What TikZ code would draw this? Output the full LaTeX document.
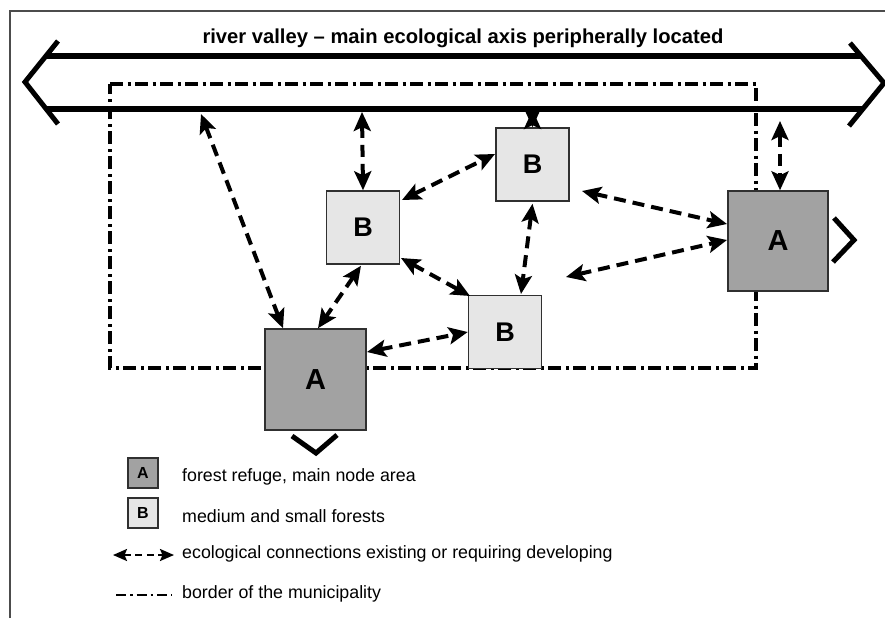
\documentclass[tikz,border=0pt]{standalone}
\usepackage{fontspec}
\setmainfont{Liberation Sans}
\usetikzlibrary{arrows.meta}
\definecolor{aFill}{HTML}{A2A2A2}
\definecolor{bFill}{HTML}{E6E6E6}
\definecolor{edge}{HTML}{303030}
\begin{document}
\begin{tikzpicture}[x=1pt,y=-1pt,
  abox/.style={draw=edge,line width=1.5pt,fill=aFill,minimum size=#1,inner sep=0pt,
    font=\fontsize{29}{29}\selectfont\bfseries},
  bbox/.style={draw=edge,line width=1.5pt,fill=bFill,minimum size=#1,inner sep=0pt,
    font=\fontsize{27}{27}\selectfont\bfseries},
  conn/.style={line width=4pt,dash pattern=on 12pt off 7pt,
    {Stealth[length=19pt,width=17pt,inset=4pt]}-{Stealth[length=19pt,width=17pt,inset=4pt]}},
  river/.style={line width=5.5pt},
  chev/.style={line width=5pt,line cap=butt},
  border/.style={line width=3.2pt,dash pattern=on 13pt off 4.5pt on 3pt off 4.5pt},
  frameline/.style={line width=1.6pt,draw=black!70},
  legtext/.style={anchor=west,inner sep=0pt,font=\fontsize{17.8}{17.8}\selectfont}
]
\useasboundingbox (0,0) rectangle (885,619);
% frame
\draw[frameline] (10,618) -- (10,11) -- (885,11);
% title
\node[font=\fontsize{20.2}{20.2}\selectfont\bfseries] (title) at (463,38) {river valley -- main ecological axis peripherally located};
% river valley
\coordinate (rl1) at (45,56);
\coordinate (rr1) at (862,56);
\coordinate (rl2) at (45,109);
\coordinate (rr2) at (862,109);
\draw[river] (rl1) -- (rr1);
\draw[river] (rl2) -- (rr2);
\draw[chev] (58,41) -- (25,82) -- (58,124);
\draw[chev] (850,43) -- (884,83) -- (849,126);
% municipality border
\draw[border] (110,84) -- (756,84) -- (756,368) -- (110,368) -- cycle;
% nodes
\node[abox=101pt] (A1) at (315.5,379.5) {A};
\node[abox=100pt] (A2) at (778,241) {A};
\node[bbox=73pt] (B1) at (363,227.5) {B};
\node[bbox=73pt] (B2) at (532.5,164.5) {B};
\node[bbox=73pt] (B3) at (505,332) {B};
% outward chevrons
\draw[chev] (292,436) -- (316,453) -- (337,435);
\draw[chev] (834,218) -- (854,240) -- (833,262);
% river connection points
\coordinate (r1) at (201,114);
\coordinate (r2) at (362,112);
\coordinate (r3) at (532.5,110);
\coordinate (r4) at (780,121);
% connectors
\draw[conn] (r1) -- ([shift={(-32.5,0)}]A1.north);
\draw[conn] (r2) -- (B1.north);
\draw[conn] (r3) -- (B2.north);
\draw[conn] (r4) -- ([shift={(2,0)}]A2.north);
\draw[conn] ([shift={(39,-27.5)}]B1.center) -- ([shift={(-37.5,-10.5)}]B2.center);
\draw[conn] ([shift={(49.5,26.5)}]B2.center) -- ([shift={(-51,-17)}]A2.center);
\draw[conn] ([shift={(0,2)}]B2.south) -- ([shift={(16,-38)}]B3.center);
\draw[conn] ([shift={(61,-55)}]B3.center) -- ([shift={(-51,-1)}]A2.center);
\draw[conn] ([shift={(38,30.5)}]B1.center) -- ([shift={(-35,-36)}]B3.center);
\draw[conn] ([shift={(-2,1)}]B1.south) -- ([shift={(2.5,0)}]A1.north);
\draw[conn] ([shift={(51.5,-27.5)}]A1.center) -- (B3.west);
% legend
\node[abox=30pt,font=\fontsize{16}{16}\selectfont\bfseries] (legA) at (143,473) {A};
\node[bbox=30pt,font=\fontsize{16}{16}\selectfont\bfseries] (legB) at (143,513) {B};
\node[legtext] (tA) at (182,477) {forest refuge, main node area};
\node[legtext] (tB) at (182,516) {medium and small forests};
\coordinate (la1) at (113,555);
\coordinate (la2) at (174,555);
\draw[line width=2.2pt,dash pattern=on 7pt off 4.5pt,
  {Stealth[length=14pt,width=12pt,inset=2.5pt]}-{Stealth[length=14pt,width=12pt,inset=2.5pt]}] (la1) -- (la2);
\node[legtext] (tC) at (182,554) {ecological connections existing or requiring developing};
\coordinate (lb1) at (116,595);
\coordinate (lb2) at (172,595);
\draw[line width=2.4pt,dash pattern=on 10pt off 4pt on 2.5pt off 4pt] (lb1) -- (lb2);
\node[legtext] (tD) at (182,594) {border of the municipality};
\end{tikzpicture}
\end{document}
